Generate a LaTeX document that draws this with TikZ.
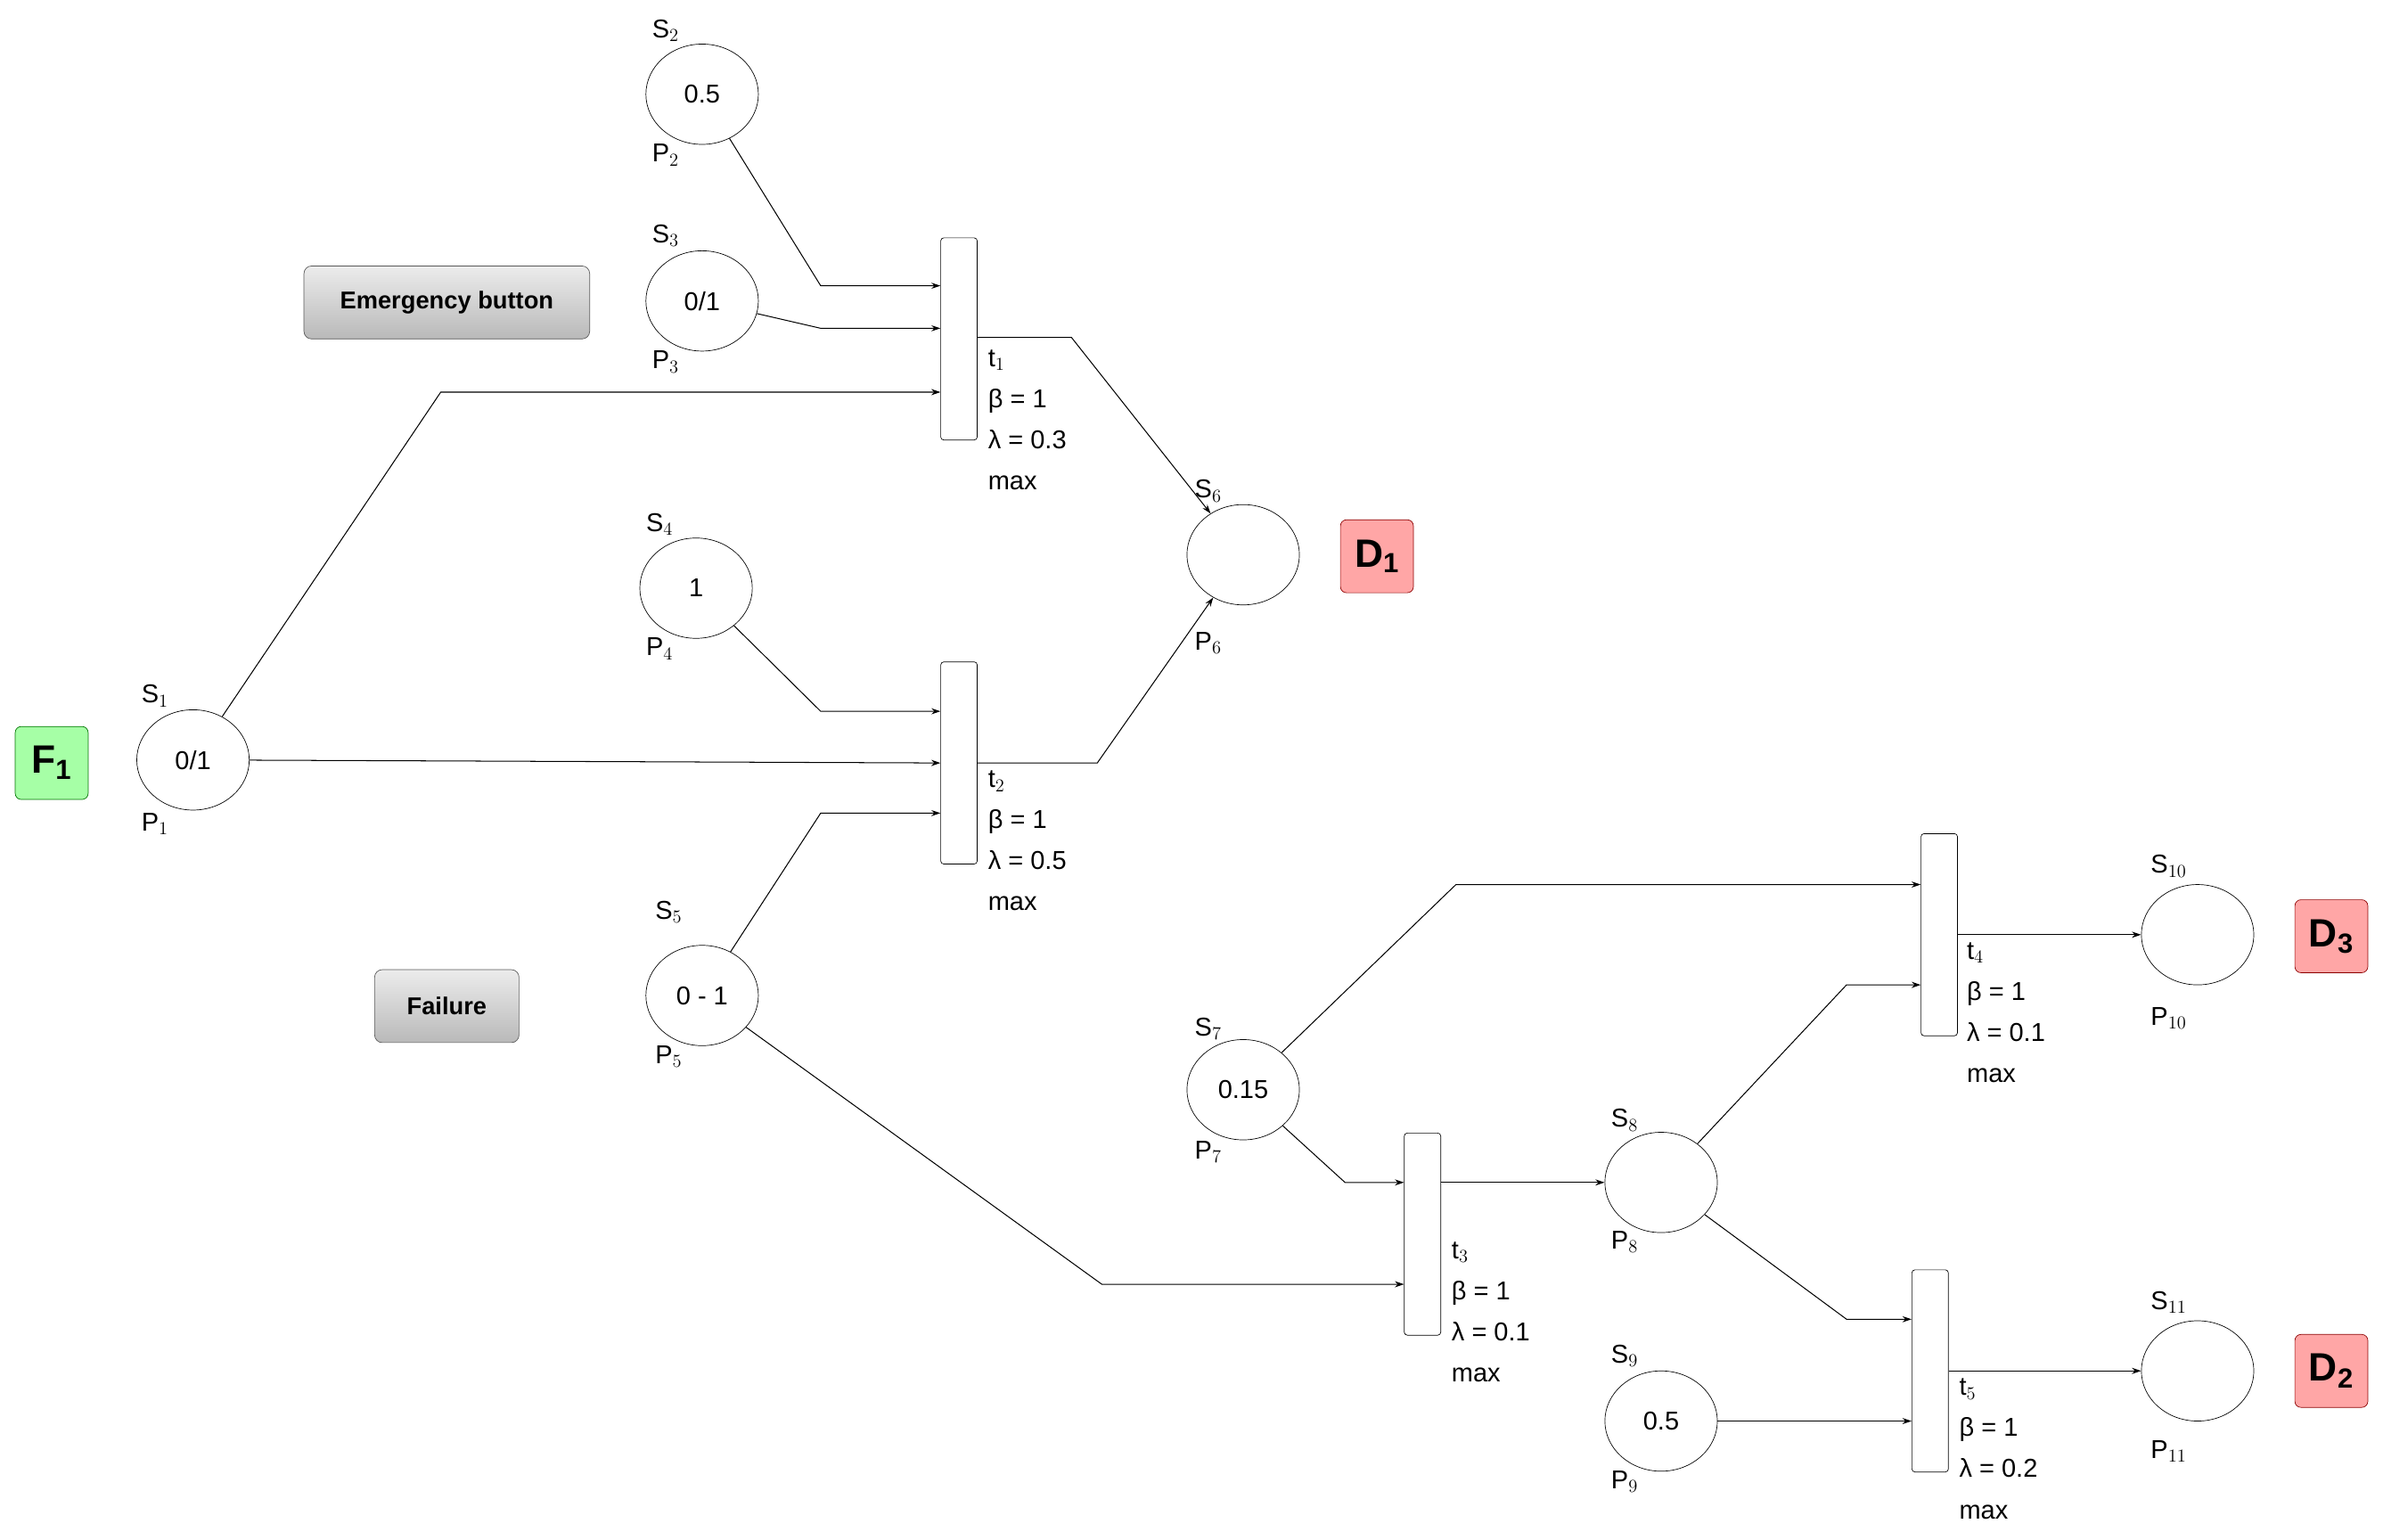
\documentclass[tikz,border=0pt]{standalone}
\usepackage{fontspec}
\setmainfont{Liberation Sans}
\usetikzlibrary{arrows.meta,shapes.geometric}
\begin{document}
\begin{tikzpicture}[x=1pt,y=-1pt,
  pl/.style={draw,ellipse,minimum width=74pt,minimum height=66pt,inner sep=0pt,font=\fontsize{17}{20}\selectfont},
  tr/.style={draw,rounded corners=2pt,minimum width=24pt,minimum height=133pt,inner sep=0pt},
  lab/.style={font=\fontsize{17}{20}\selectfont,inner sep=0pt},
  tl/.style={font=\fontsize{17}{27}\selectfont,align=left,anchor=north west,inner sep=0pt},
  fact/.style={draw=green!45!black,fill=green!35,rounded corners=4pt,minimum width=48pt,minimum height=48pt,font=\fontsize{26}{28}\selectfont\bfseries,inner sep=0pt},
  dec/.style={draw=red!55!black,fill=red!35,rounded corners=4pt,minimum width=48pt,minimum height=48pt,font=\fontsize{26}{28}\selectfont\bfseries,inner sep=0pt},
  gbox/.style={draw=gray!70!black,top color=gray!15,bottom color=gray!55,rounded corners=5pt,minimum height=48pt,font=\fontsize{16}{18}\selectfont\bfseries,inner sep=4pt},
  arc/.style={-{Stealth[length=6pt,width=4pt]},line width=0.6pt}]
\useasboundingbox (0,0) rectangle (1568,1013);
% places
\node[pl] (P1) at (127,500) {0/1};
\node[pl] (P2) at (462,62) {0.5};
\node[pl] (P3) at (462,198) {0/1};
\node[pl] (P4) at (458,387) {1};
\node[pl] (P5) at (462,655) {0 - 1};
\node[pl] (P6) at (818,365) {};
\node[pl] (P7) at (818,717) {0.15};
\node[pl] (P8) at (1093,778) {};
\node[pl] (P9) at (1093,935) {0.5};
\node[pl] (P10) at (1446,615) {};
\node[pl] (P11) at (1446,902) {};
% S / P labels
\foreach \n/\x/\ys/\yp/\i in {P1/102/458/542/1,P2/438/20/102/2,P3/438/155/238/3,P4/434/345/427/4,P5/440/600/695/5,P6/795/323/423/6,P7/795/677/758/7,P8/1069/737/817/8,P9/1069/892/975/9,P10/1427/570/670/10,P11/1427/857/955/11}{
  \node[lab] (S\i l) at (\x,\ys) {S$_{\i}$};
  \node[lab] (P\i l) at (\x,\yp) {P$_{\i}$};
}
% transitions
\node[tr] (t1) at (631,223) {};
\node[tr] (t2) at (631,502) {};
\node[tr] (t3) at (936,812) {};
\node[tr] (t4) at (1276,615) {};
\node[tr] (t5) at (1270,902) {};
\node[tl] (t1l) at (650,230) {t$_1$\\β = 1\\λ = 0.3\\max};
\node[tl] (t2l) at (650,507) {t$_2$\\β = 1\\λ = 0.5\\max};
\node[tl] (t3l) at (955,817) {t$_3$\\β = 1\\λ = 0.1\\max};
\node[tl] (t4l) at (1294,620) {t$_4$\\β = 1\\λ = 0.1\\max};
\node[tl] (t5l) at (1289,907) {t$_5$\\β = 1\\λ = 0.2\\max};
% boxes
\node[fact] (F1) at (34,502) {F$_\mathbf{1}$};
\node[dec] (D1) at (906,366) {D$_\mathbf{1}$};
\node[dec] (D3) at (1534,616) {D$_\mathbf{3}$};
\node[dec] (D2) at (1534,902) {D$_\mathbf{2}$};
\node[gbox,minimum width=188pt] (EB) at (294,199) {Emergency button};
\node[gbox,minimum width=95pt] (FA) at (294,662) {Failure};
% arcs
\draw[arc] (P2) -- (540,188) -- (t1.west |- 0,188);
\draw[arc] (P3) -- (540,216) -- (t1.west |- 0,216);
\draw[arc] (P1) -- (290,258) -- (t1.west |- 0,258);
\draw[arc] (t1.east |- 0,222) -- (705,222) -- (P6);
\draw[arc] (P4) -- (540,468) -- (t2.west |- 0,468);
\draw[arc] (P1) -- (t2.west |- 0,502);
\draw[arc] (P5) -- (540,535) -- (t2.west |- 0,535);
\draw[arc] (t2.east |- 0,502) -- (722,502) -- (P6);
\draw[arc] (P5) -- (725,845) -- (t3.west |- 0,845);
\draw[arc] (P7) -- (885,778) -- (t3.west |- 0,778);
\draw[arc] (t3.east |- 0,778) -- (P8);
\draw[arc] (P7) -- (958,582) -- (t4.west |- 0,582);
\draw[arc] (P8) -- (1215,648) -- (t4.west |- 0,648);
\draw[arc] (t4.east |- 0,615) -- (P10);
\draw[arc] (P8) -- (1215,868) -- (t5.west |- 0,868);
\draw[arc] (P9) -- (t5.west |- 0,935);
\draw[arc] (t5.east |- 0,902) -- (P11);
\end{tikzpicture}
\end{document}
